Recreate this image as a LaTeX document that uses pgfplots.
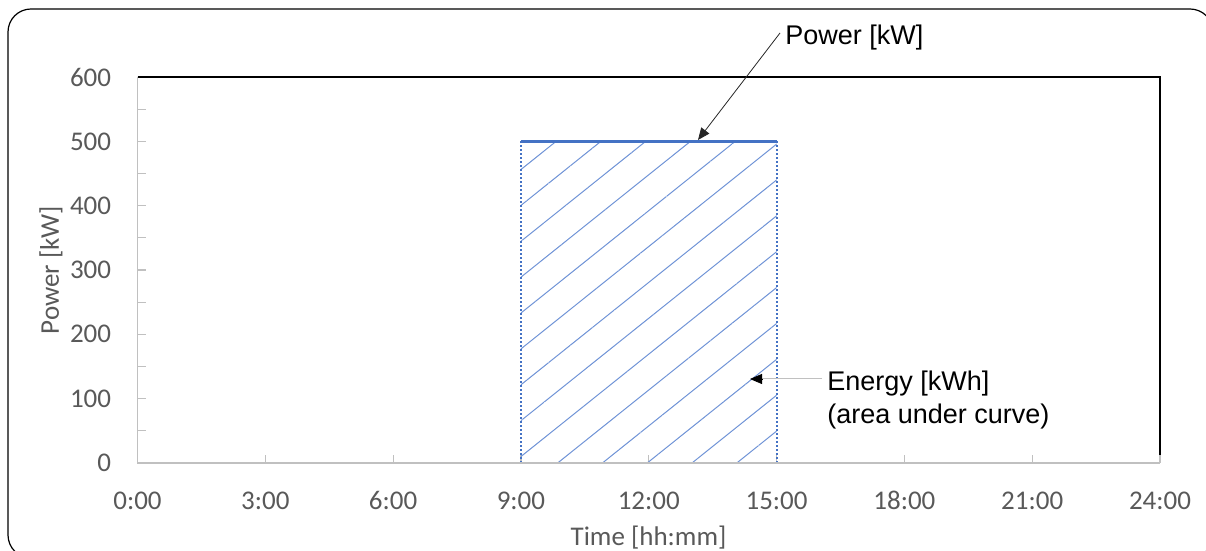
\documentclass[border=0pt]{standalone}
\usepackage{pgfplots}
\pgfplotsset{compat=1.18}
\usetikzlibrary{patterns.meta, arrows.meta}
\usepackage{fontspec}
\setmainfont{Carlito}
\newfontfamily\arial{Liberation Sans}
\definecolor{xlblue}{HTML}{4472C4}
\definecolor{hatch}{HTML}{6F93D6}
\definecolor{axgray}{HTML}{C0C0C0}
\definecolor{txtgray}{HTML}{595959}
\newcommand{\fs}{\fontsize{13.5}{16}\selectfont}

\begin{document}
\begin{tikzpicture}
\path[use as bounding box] (0,0) rectangle (603pt,275.5pt);
\draw[line width=0.6pt, rounded corners=11.5pt] (4pt,271pt) rectangle (606.5pt,-3.5pt);
\begin{axis}[
  at={(68.75pt,44pt)}, anchor=south west, scale only axis,
  width=511.25pt, height=193pt,
  xmin=0, xmax=24, ymin=0, ymax=600,
  xtick={0,3,...,24},
  xticklabels={0:00,3:00,6:00,9:00,12:00,15:00,18:00,21:00,24:00},
  ytick={0,100,...,600}, minor ytick={50,150,...,550},
  xtick pos=bottom, ytick pos=left, tick align=inside,
  major tick length=4pt, minor tick length=4pt,
  every tick/.style={axgray, line width=0.6pt},
  minor tick style={axgray, line width=0.6pt},
  axis line style={draw=none},
  tick label style={font=\fs, text=txtgray, inner sep=0pt},
  xticklabel style={anchor=base, yshift=-23.5pt},
  yticklabel style={anchor=east, xshift=-13pt},
  /pgf/number format/assume math mode=true,
  clip=false,
]
\addplot[draw=none, pattern={Lines[angle=38.7, distance=14pt, line width=0.5pt]}, pattern color=hatch]
  coordinates {(9,500) (15,500)} \closedcycle;
\addplot[xlblue, line width=1pt, dash pattern=on 1pt off 1pt] coordinates {(9,0) (9,500)};
\addplot[xlblue, line width=1pt, dash pattern=on 1pt off 1pt] coordinates {(15,500) (15,0)};
\addplot[xlblue, line width=1.5pt] coordinates {(9,500) (15,500)};
\draw[axgray, line width=0.8pt] (rel axis cs:0,1) -- (rel axis cs:0,0) -- (rel axis cs:1,0);
\draw[black, line width=0.7pt] (rel axis cs:0,1) -- (rel axis cs:1,1) -- (rel axis cs:1,0.02);
\end{axis}
% annotations
\node[font=\fs\arial, anchor=base west, inner sep=0pt] at (392.5pt,253pt) {Power [kW]};
\draw[-{Triangle[length=6pt,width=5pt]}, line width=0.4pt, black!85] (390pt,259pt) -- (349pt,205.5pt);
\draw[axgray, line width=0.5pt] (411pt,86pt) -- (377pt,86pt);
\draw[-{Triangle[length=6pt,width=5pt]}, line width=0.4pt, black] (381pt,86pt) -- (375pt,86pt);
\node[font=\fs\arial, anchor=base west, inner sep=0pt] at (413.5pt,80pt) {Energy [kWh]};
\node[font=\fs\arial, anchor=base west, inner sep=0pt] at (413.5pt,63.5pt) {(area under curve)};
\node[font=\fs, text=txtgray, rotate=90, inner sep=0pt] at (25.5pt,140.5pt) {Power [kW]};
\node[font=\fs, text=txtgray, anchor=base, inner sep=0pt] at (324.25pt,2.8pt) {Time [hh:mm]};
\end{tikzpicture}
\end{document}
